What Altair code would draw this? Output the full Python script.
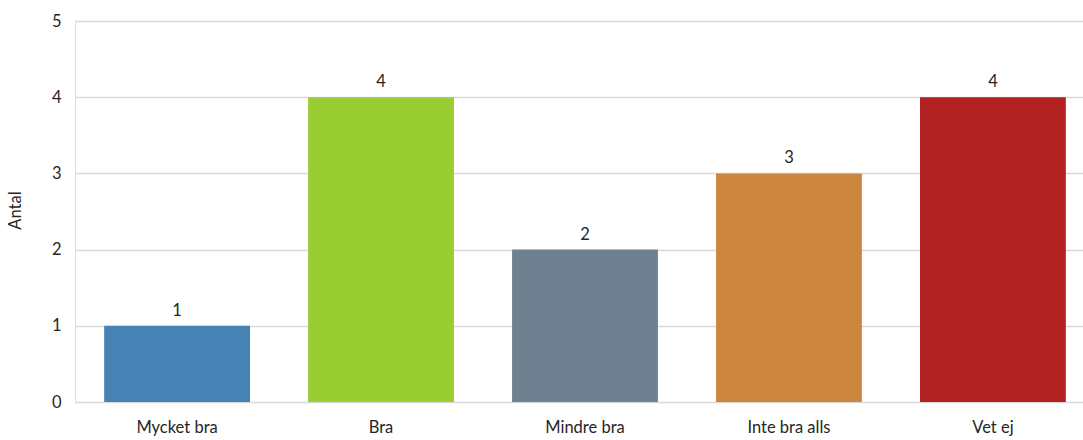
import altair as alt
import pandas as pd

categories = ["Mycket bra", "Bra", "Mindre bra", "Inte bra alls", "Vet ej"]
counts = [1, 4, 2, 3, 4]
colors = ["#4682B4", "#9ACD32", "#708090", "#CD853F", "#B22222"]

df = pd.DataFrame({"kategori": categories, "antal": counts, "farg": colors})

FONT = "Lato"
TEXT = "#262626"
SIZE = 16.5

x_enc = alt.X(
    "kategori:N",
    sort=categories,
    scale=alt.Scale(range=[0, 1020], paddingInner=0.285, paddingOuter=0.143),
    axis=alt.Axis(
        title=None, labelAngle=0, labelPadding=17, ticks=False, domain=False,
        labelFont=FONT, labelFontSize=SIZE, labelColor=TEXT, grid=False,
    ),
)

base = alt.Chart(df)

bars = base.mark_bar().encode(
    x=x_enc,
    y=alt.Y(
        "antal:Q",
        scale=alt.Scale(domain=[0, 5], nice=False),
        axis=alt.Axis(
            title="Antal", values=[0, 1, 2, 3, 4, 5], format="d",
            ticks=False, domain=False, labelPadding=14,
            labelFont=FONT, labelFontSize=SIZE, labelColor=TEXT,
            titleFont=FONT, titleFontSize=SIZE, titleColor=TEXT, titleFontWeight="normal",
            titleX=-52, titleY=189,
            gridColor="#d9d9d9", gridWidth=1.5,
        ),
    ),
    color=alt.Color("farg:N", scale=None),
)

labels = base.mark_text(
    baseline="bottom", dy=-7, font=FONT, fontSize=SIZE, color=TEXT
).encode(
    x=alt.X("kategori:N", sort=categories),
    y="antal:Q",
    text="antal:Q",
)

chart = (
    alt.layer(bars, labels)
    .properties(
        width=1008,
        height=381,
        autosize=alt.AutoSizeParams(type="none"),
        padding={"left": 75, "top": 21, "right": 0, "bottom": 38},
    )
    .configure_view(stroke=None)
    .configure(background="white")
)

chart.save("out.html", embed_options={"renderer": "svg", "actions": False})
